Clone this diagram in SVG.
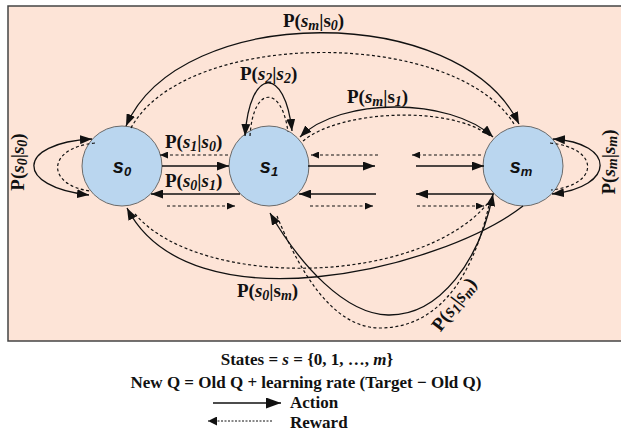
<svg xmlns="http://www.w3.org/2000/svg" width="621" height="435" viewBox="0 0 621 435">
<defs>
<marker id="ah" viewBox="0 0 12 9" refX="12" refY="4.5" markerWidth="12" markerHeight="9" markerUnits="userSpaceOnUse" orient="auto-start-reverse"><path d="M0,0 L12,4.5 L0,9 z" fill="#111"/></marker>
<marker id="ahs" viewBox="0 0 8 7" refX="8" refY="3.5" markerWidth="8" markerHeight="7" markerUnits="userSpaceOnUse" orient="auto-start-reverse"><path d="M0,0 L8,3.5 L0,7 z" fill="#111"/></marker>
<marker id="ahl" viewBox="0 0 15 11" refX="15" refY="5.5" markerWidth="15" markerHeight="11" markerUnits="userSpaceOnUse" orient="auto"><path d="M0,0 L15,5.5 L0,11 z" fill="#111"/></marker>
<marker id="ahld" viewBox="0 0 9 9" refX="9" refY="4.5" markerWidth="9" markerHeight="9" markerUnits="userSpaceOnUse" orient="auto"><path d="M0,0 L9,4.5 L0,9 z" fill="#111"/></marker>
</defs>
<style>
.frame{fill:#fde4d7;stroke:#444;stroke-width:1.5}
.node{fill:#bad6ef;stroke:#6a6a6a;stroke-width:1}
.nt{font-family:"Liberation Sans",Arial,sans-serif;font-weight:bold;font-style:italic;font-size:20px;fill:#111}
.ns{font-size:13px}
.s{fill:none;stroke:#111;stroke-width:1.3}
.d{fill:none;stroke:#111;stroke-width:1.2;stroke-dasharray:3 2.5}
.lbl{font-family:"Liberation Serif","Times New Roman",serif;font-weight:bold;font-size:19px;fill:#111}
.it{font-style:italic}
.sub{font-size:14px;font-style:italic}
.leg{font-family:"Liberation Serif","Times New Roman",serif;font-weight:bold;font-size:17px;fill:#111}
</style>
<rect class="frame" x="8" y="6" width="625" height="335"/>
<g id="node-s0"><circle class="node" cx="122" cy="166" r="40"/><text class="nt" x="122" y="173" text-anchor="middle">s<tspan class="ns" dy="3">0</tspan></text></g>
<g id="node-s1"><circle class="node" cx="269" cy="166" r="40"/><text class="nt" x="269" y="173" text-anchor="middle">s<tspan class="ns" dy="3">1</tspan></text></g>
<g id="node-sm"><circle class="node" cx="523" cy="166" r="40"/><text class="nt" x="521" y="173" text-anchor="middle">s<tspan class="ns" dy="3">m</tspan></text></g>
<g id="connectors">
<path class="s" d="M92,139 C15,143 15,187 89,195" marker-start="url(#ah)" marker-end="url(#ah)"/>
<path class="d" d="M95,143 C46,148 46,185 90,191"/>
<path class="s" d="M553,139 C616,143 616,187 552,194" marker-start="url(#ah)" marker-end="url(#ah)"/>
<path class="d" d="M550,143 C600,148 600,185 551,190"/>
<path class="s" d="M245,136 C250,66 285,66 292,131" marker-start="url(#ah)" marker-end="url(#ah)"/>
<path class="d" d="M250,136 C253,85 282,85 288,132"/>
<path class="s" d="M126,126 C180,2 460,2 519,124" marker-start="url(#ah)" marker-end="url(#ah)"/>
<path class="d" d="M131,128 C185,28 455,28 514,124"/>
<path class="s" d="M300,137 C340,97 450,97 493,137" marker-start="url(#ah)" marker-end="url(#ah)"/>
<path class="d" d="M303,141 C340,110 450,105 490,136"/>
<path class="d" d="M228,155 L160,155" marker-end="url(#ahs)"/>
<path class="s" d="M162,166 L229,166" marker-end="url(#ah)"/>
<path class="s" d="M240,194 L151,194" marker-end="url(#ah)"/>
<path class="d" d="M167,206 L235,206" marker-end="url(#ahs)"/>
<path class="d" d="M378,155 L311,155" marker-end="url(#ahs)"/>
<path class="d" d="M481,155 L412,155" marker-end="url(#ahs)"/>
<path class="s" d="M308,166 L375,166" marker-end="url(#ah)"/>
<path class="s" d="M416,166 L484,166" marker-end="url(#ah)"/>
<path class="s" d="M376,194 L299,194" marker-end="url(#ah)"/>
<path class="s" d="M494,194 L416,194" marker-end="url(#ah)"/>
<path class="d" d="M310,206 L373,206" marker-end="url(#ahs)"/>
<path class="d" d="M417,206 L484,206" marker-end="url(#ahs)"/>
<path class="s" d="M523,206 C440,270 190,330 127,208" marker-end="url(#ah)"/>
<path class="d" d="M135,214 C200,290 420,286 488,203"/>
<path class="s" d="M493,194 C480,260 440,316 388,315 C345,314 300,265 270,213" marker-start="url(#ah)" marker-end="url(#ah)"/>
<path class="d" d="M277,216 C297,265 330,328 380,328 C430,328 470,290 489,205"/>
</g>
<g id="edge-labels">
<text class="lbl" x="283" y="27">P(<tspan class="it">s</tspan><tspan class="sub" dy="3">m</tspan><tspan dy="-3">|s</tspan><tspan class="sub" dy="3">0</tspan><tspan dy="-3">)</tspan></text>
<text class="lbl" x="240" y="80">P(<tspan class="it">s</tspan><tspan class="sub" dy="3">2</tspan><tspan dy="-3">|</tspan><tspan class="it">s</tspan><tspan class="sub" dy="3">2</tspan><tspan dy="-3">)</tspan></text>
<text class="lbl" x="347" y="103">P(<tspan class="it">s</tspan><tspan class="sub" dy="3">m</tspan><tspan dy="-3">|s</tspan><tspan class="sub" dy="3">1</tspan><tspan dy="-3">)</tspan></text>
<text class="lbl" x="165" y="148">P(<tspan class="it">s</tspan><tspan class="sub" dy="3">1</tspan><tspan dy="-3">|</tspan><tspan class="it">s</tspan><tspan class="sub" dy="3">0</tspan><tspan dy="-3">)</tspan></text>
<text class="lbl" x="165" y="187">P(<tspan class="it">s</tspan><tspan class="sub" dy="3">0</tspan><tspan dy="-3">|</tspan><tspan class="it">s</tspan><tspan class="sub" dy="3">1</tspan><tspan dy="-3">)</tspan></text>
<text class="lbl" x="237" y="297">P(<tspan class="it">s</tspan><tspan class="sub" dy="3">0</tspan><tspan dy="-3">|s</tspan><tspan class="sub" dy="3">m</tspan><tspan dy="-3">)</tspan></text>
<text class="lbl" text-anchor="middle" transform="translate(24,162) rotate(-90)">P(<tspan class="it">s</tspan><tspan class="sub" dy="3">0</tspan><tspan dy="-3">|</tspan><tspan class="it">s</tspan><tspan class="sub" dy="3">0</tspan><tspan dy="-3">)</tspan></text>
<text class="lbl" text-anchor="middle" transform="translate(615,162) rotate(-90)">P(<tspan class="it">s</tspan><tspan class="sub" dy="2">m</tspan><tspan dy="-2">|</tspan><tspan class="it">s</tspan><tspan class="sub" dy="2">m</tspan><tspan dy="-2">)</tspan></text>
<text class="lbl" text-anchor="middle" transform="translate(459,308) rotate(-53)">P(<tspan class="it">s</tspan><tspan class="sub" dy="3">1</tspan><tspan dy="-3">|</tspan><tspan class="it">s</tspan><tspan class="sub" dy="3">m</tspan><tspan dy="-3">)</tspan></text>
</g>
<g id="legend">
<text class="leg" x="307" y="365" text-anchor="middle">States = <tspan class="it">s</tspan> = {0, 1, …, <tspan class="it">m</tspan>}</text>
<text class="leg" x="306" y="388" text-anchor="middle">New Q = Old Q + learning rate (Target − Old Q)</text>
<path class="s" d="M213,403 L281,403" marker-end="url(#ahl)"/>
<text class="leg" x="290" y="408">Action</text>
<path d="M272,421 L208,421" fill="none" stroke="#111" stroke-width="1" stroke-dasharray="2 1.5" marker-end="url(#ahld)"/>
<text class="leg" x="290" y="428">Reward</text>
</g>
</svg>
